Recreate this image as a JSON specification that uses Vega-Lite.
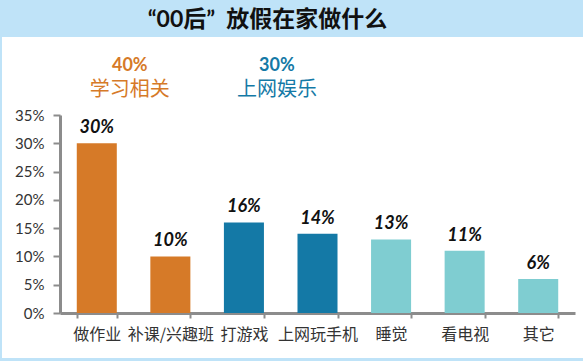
{
  "$schema": "https://vega.github.io/schema/vega-lite/v6.json",
  "width": 581,
  "height": 321,
  "autosize": {"type": "none"},
  "padding": {"left": 2, "top": 37, "right": 0, "bottom": 3},
  "background": "#BFE3F8",
  "view": {"fill": "white", "stroke": null},
  "title": {
    "text": "“00后” \u00a0放假在家做什么",
    "font": "Lato, Noto Sans CJK SC",
    "fontSize": 23,
    "fontWeight": "bold",
    "color": "#111111",
    "anchor": "middle",
    "offset": 5,
    "dx": -25
  },
  "data": {
    "values": [
      {"activity": "做作业", "share": 0.30, "kind": "学习"},
      {"activity": "补课/兴趣班", "share": 0.10, "kind": "学习"},
      {"activity": "打游戏", "share": 0.16, "kind": "娱乐"},
      {"activity": "上网玩手机", "share": 0.14, "kind": "娱乐"},
      {"activity": "睡觉", "share": 0.13, "kind": "其他"},
      {"activity": "看电视", "share": 0.11, "kind": "其他"},
      {"activity": "其它", "share": 0.06, "kind": "其他"}
    ]
  },
  "layer": [
    {
      "mark": {"type": "bar"},
      "encoding": {
        "x": {
          "field": "activity",
          "type": "nominal",
          "sort": null,
          "scale": {
            "domain": ["做作业", "补课/兴趣班", "打游戏", "上网玩手机", "睡觉", "看电视", "其它"],
            "range": [58, 573],
            "paddingInner": 0.456,
            "paddingOuter": 0.228
          },
          "axis": {
            "title": null,
            "orient": "bottom",
            "offset": -45,
            "labelAngle": 0,
            "domainColor": "#8c8c8c",
            "domainWidth": 3,
            "tickColor": "#8c8c8c",
            "tickWidth": 2,
            "tickSize": 5,
            "tickBand": "extent",
            "labelFont": "Noto Sans CJK SC",
            "labelFontSize": 16,
            "labelColor": "#333333",
            "labelPadding": 8
          }
        },
        "y": {
          "field": "share",
          "type": "quantitative",
          "scale": {"domain": [0, 0.35], "range": [276, 78], "nice": false, "zero": true},
          "axis": {
            "title": null,
            "orient": "left",
            "offset": -58,
            "values": [0, 0.05, 0.1, 0.15, 0.2, 0.25, 0.3, 0.35],
            "format": ".0%",
            "grid": false,
            "domainColor": "#8c8c8c",
            "domainWidth": 3,
            "tickColor": "#8c8c8c",
            "tickWidth": 2,
            "tickSize": 7,
            "labelFont": "Lato",
            "labelFontSize": 15,
            "labelColor": "#333333",
            "labelPadding": 9
          }
        },
        "color": {
          "field": "kind",
          "type": "nominal",
          "scale": {"domain": ["学习", "娱乐", "其他"], "range": ["#D67A28", "#1479A6", "#7FCDD1"]},
          "legend": null
        }
      }
    },
    {
      "mark": {
        "type": "text",
        "font": "Lato",
        "fontStyle": "italic",
        "fontWeight": "bold",
        "fontSize": 18,
        "baseline": "bottom",
        "dy": -6,
        "color": "#111111"
      },
      "encoding": {
        "x": {"field": "activity", "type": "nominal", "sort": null},
        "y": {"field": "share", "type": "quantitative"},
        "text": {"field": "share", "type": "quantitative", "format": ".0%"}
      }
    },
    {
      "data": {
        "values": [
          {"anchor": "做作业", "total": "40%", "group": "学习相关", "kind": "学习"},
          {"anchor": "打游戏", "total": "30%", "group": "上网娱乐", "kind": "娱乐"}
        ]
      },
      "layer": [
        {
          "mark": {"type": "text", "font": "Lato", "fontWeight": "bold", "fontSize": 18, "baseline": "middle", "dx": 33},
          "encoding": {
            "x": {"field": "anchor", "type": "nominal"},
            "y": {"datum": 0.437},
            "text": {"field": "total"},
            "color": {"field": "kind", "type": "nominal"}
          }
        },
        {
          "mark": {"type": "text", "font": "Noto Sans CJK SC", "fontSize": 20, "baseline": "middle", "dx": 33},
          "encoding": {
            "x": {"field": "anchor", "type": "nominal"},
            "y": {"datum": 0.394},
            "text": {"field": "group"},
            "color": {"field": "kind", "type": "nominal"}
          }
        }
      ]
    }
  ]
}
